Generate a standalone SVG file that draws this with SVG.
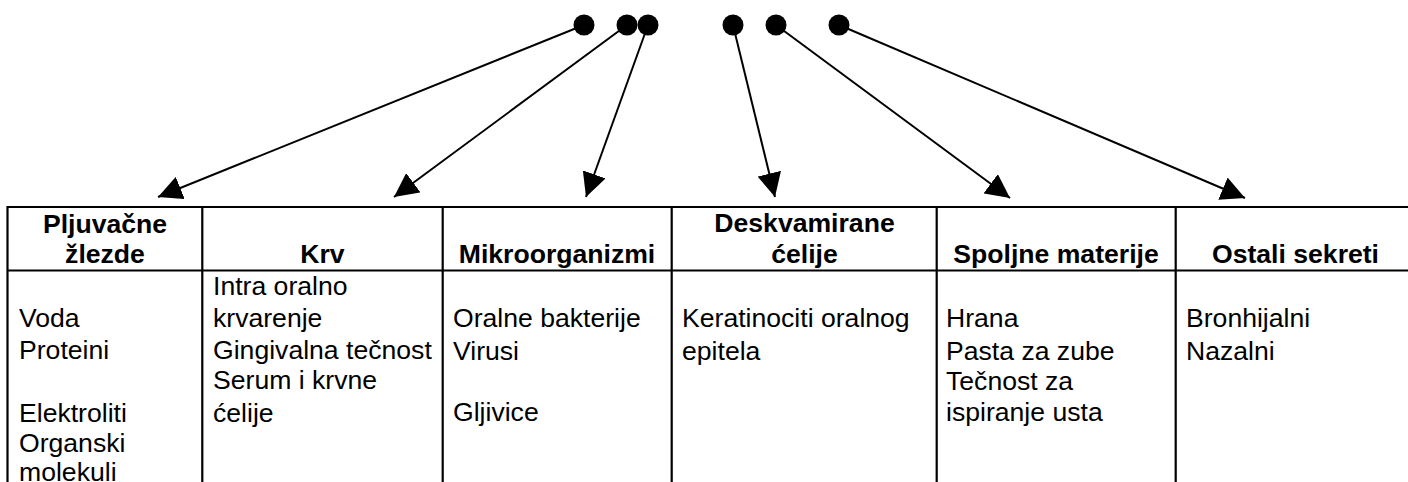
<svg xmlns="http://www.w3.org/2000/svg" width="1408" height="482" viewBox="0 0 1408 482">
<style>
text{font-family:"Liberation Sans",Arial,sans-serif;font-size:26.6px;fill:#000}
.h{font-weight:bold;text-anchor:middle}
.grid{stroke:#000;stroke-width:2.2;fill:none}
.conn{stroke:#000;stroke-width:2;fill:none;marker-end:url(#ah)}
.dot{fill:#000}
</style>
<defs>
<marker id="ah" markerUnits="userSpaceOnUse" markerWidth="24" markerHeight="24" viewBox="0 0 22 22" refX="22" refY="11" orient="auto">
<path d="M0,0 L22,11 L0,22 z" fill="#000"/>
</marker>
</defs>
<rect width="1408" height="482" fill="#fff"/>
<g id="sources">
<g id="dot1"><circle class="dot" cx="584" cy="25" r="10.5"/></g>
<g id="dot2"><circle class="dot" cx="627" cy="25" r="10.5"/></g>
<g id="dot3"><circle class="dot" cx="648" cy="25" r="10.5"/></g>
<g id="dot4"><circle class="dot" cx="733" cy="25" r="10.5"/></g>
<g id="dot5"><circle class="dot" cx="776" cy="25" r="10.5"/></g>
<g id="dot6"><circle class="dot" cx="839" cy="25" r="10.5"/></g>
</g>
<g id="connectors">
<line class="conn" x1="584" y1="25" x2="158" y2="197"/>
<line class="conn" x1="627" y1="25" x2="394" y2="197"/>
<line class="conn" x1="648" y1="25" x2="586" y2="197"/>
<line class="conn" x1="733" y1="25" x2="775" y2="197"/>
<line class="conn" x1="776" y1="25" x2="1010" y2="198"/>
<line class="conn" x1="839" y1="25" x2="1245" y2="198"/>
</g>
<g id="table-grid">
<path class="grid" d="M7.5,207 H1410 M7.5,270.5 H1410 M7.5,206 V482 M202.3,207 V482 M442.7,207 V482 M671.7,207 V482 M936.7,207 V482 M1175.7,207 V482"/>
</g>
<g id="col-pljuvacne">
<text class="h" x="105" y="233">Pljuvačne</text>
<text class="h" x="105" y="263">žlezde</text>
<text x="19" y="327">Voda</text>
<text x="19" y="359">Proteini</text>
<text x="19" y="422">Elektroliti</text>
<text x="19" y="452">Organski</text>
<text x="19" y="481">molekuli</text>
</g>
<g id="col-krv">
<text class="h" x="322.5" y="263">Krv</text>
<text x="213" y="295">Intra oralno</text>
<text x="213" y="327">krvarenje</text>
<text x="213" y="359">Gingivalna tečnost</text>
<text x="213" y="389">Serum i krvne</text>
<text x="213" y="422">ćelije</text>
</g>
<g id="col-mikro">
<text class="h" x="557" y="263">Mikroorganizmi</text>
<text x="453" y="327">Oralne bakterije</text>
<text x="453" y="360">Virusi</text>
<text x="453" y="421">Gljivice</text>
</g>
<g id="col-deskv">
<text class="h" x="804.5" y="232">Deskvamirane</text>
<text class="h" x="804.5" y="263">ćelije</text>
<text x="682" y="327">Keratinociti oralnog</text>
<text x="682" y="360">epitela</text>
</g>
<g id="col-spoljne">
<text class="h" x="1056" y="263">Spoljne materije</text>
<text x="946" y="327">Hrana</text>
<text x="946" y="360">Pasta za zube</text>
<text x="946" y="390">Tečnost za</text>
<text x="946" y="421">ispiranje usta</text>
</g>
<g id="col-ostali">
<text class="h" x="1295.5" y="263">Ostali sekreti</text>
<text x="1186" y="327">Bronhijalni</text>
<text x="1186" y="360">Nazalni</text>
</g>
</svg>
